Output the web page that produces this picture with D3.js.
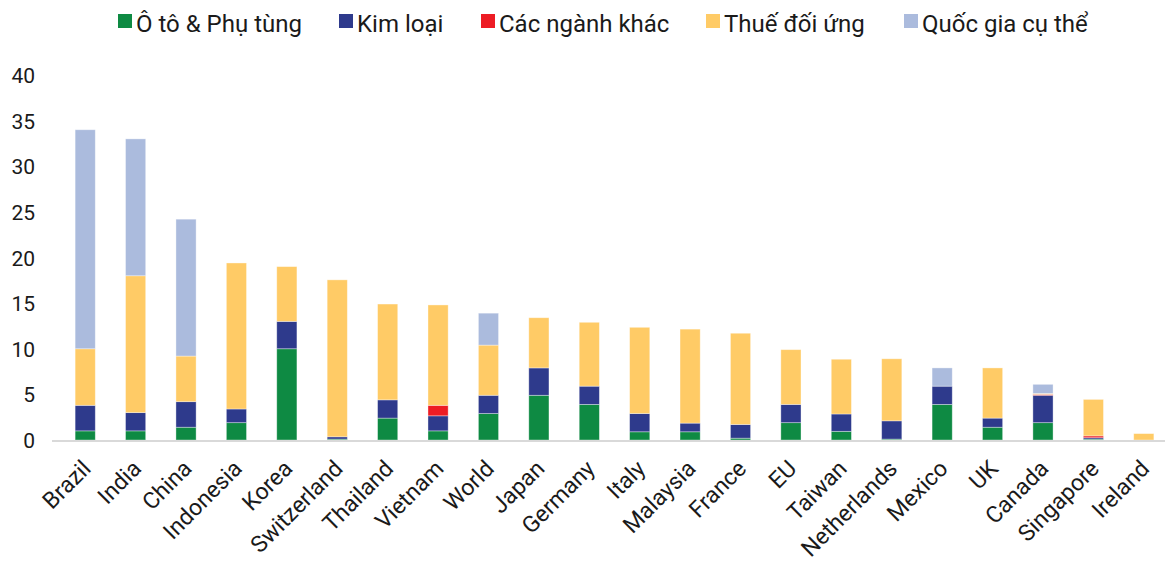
<!DOCTYPE html>
<html>
<head>
<meta charset="utf-8">
<script src="https://cdn.jsdelivr.net/npm/d3@7"></script>
<style>
  html, body { margin: 0; padding: 0; background: #fff; }
  svg { display: block; font-family: Roboto, "Noto Sans", sans-serif; }
</style>
</head>
<body>
<svg id="chart" width="1165" height="562"></svg>
<script>
// Countries, ordered by total tariff rate
const categories = ["Brazil", "India", "China", "Indonesia", "Korea", "Switzerland", "Thailand",
  "Vietnam", "World", "Japan", "Germany", "Italy", "Malaysia", "France", "EU", "Taiwan",
  "Netherlands", "Mexico", "UK", "Canada", "Singapore", "Ireland"];

// Tariff components (percentage points)
const autoParts   = [1.0, 1.0, 1.4, 1.9, 10.0, 0.1, 2.4, 1.0, 2.9, 4.9, 3.9, 0.9, 0.9, 0.2, 1.9, 0.95, 0.1, 3.9, 1.4, 1.9, 0.1, 0];
const metals      = [2.8, 2.0, 2.8, 1.5, 3.0, 0.25, 2.0, 1.65, 2.0, 3.0, 2.0, 2.0, 0.95, 1.5, 2.0, 1.9, 2.0, 2.0, 1.0, 3.0, 0.15, 0];
const otherSectors= [0, 0, 0, 0, 0, 0, 0, 1.15, 0, 0, 0, 0, 0, 0, 0, 0, 0, 0, 0, 0.1, 0.2, 0];
const reciprocal  = [6.2, 15.0, 5.0, 16.0, 6.0, 17.2, 10.5, 11.0, 5.5, 5.5, 7.0, 9.45, 10.3, 10.0, 6.0, 6.0, 6.8, 0, 5.5, 0.1, 4.0, 0.7];
const countrySpec = [24.0, 15.0, 15.0, 0, 0, 0, 0, 0, 3.5, 0, 0, 0, 0, 0, 0, 0, 0, 2.0, 0, 1.0, 0, 0];

const seriesNames = ["Ô tô & Phụ tùng", "Kim loại", "Các ngành khác", "Thuế đối ứng", "Quốc gia cụ thể"];
const seriesKeys  = ["auto", "metal", "other", "recip", "country"];
const seriesColors = ["#0e8a43", "#2e3a8c", "#ed1c24", "#ffcb66", "#abbbdd"];
const yTicks = [0, 5, 10, 15, 20, 25, 30, 35, 40];

// Build rows for the stack layout
const rows = categories.map((c, i) => ({
  name: c,
  auto: autoParts[i], metal: metals[i], other: otherSectors[i],
  recip: reciprocal[i], country: countrySpec[i]
}));

const svg = d3.select("#chart");

const x = d3.scaleBand()
  .domain(categories)
  .range([60, 1169])
  .paddingInner(0.6)
  .paddingOuter(0.3);

const y = d3.scaleLinear().domain([0, 40]).range([440, 75]);

const stacked = d3.stack().keys(seriesKeys)(rows);

// Bars
svg.append("g")
  .selectAll("g")
  .data(stacked)
  .join("g")
  .attr("fill", (d, i) => seriesColors[i])
  .selectAll("rect")
  .data(d => d.filter(s => s[1] - s[0] > 0))
  .join("rect")
  .attr("x", d => x(d.data.name))
  .attr("width", x.bandwidth())
  .attr("y", d => y(d[1]))
  .attr("height", d => y(d[0]) - y(d[1]))
  .attr("stroke", "#ffffff")
  .attr("stroke-opacity", 0.45)
  .attr("stroke-width", 0.8);

// Baseline
svg.append("line")
  .attr("x1", 52).attr("x2", 1165)
  .attr("y1", y(0) + 1).attr("y2", y(0) + 1)
  .attr("stroke", "#d9d9d9")
  .attr("stroke-width", 2);

// Y axis labels
const yAxis = d3.axisLeft(y).tickValues(yTicks).tickSize(0).tickPadding(0);
const yg = svg.append("g").attr("transform", "translate(35,0)").call(yAxis);
yg.select(".domain").remove();
yg.selectAll("text")
  .attr("font-size", 21)
  .attr("font-family", "Roboto, sans-serif")
  .attr("fill", "#1a1a1a")
  .attr("dy", "0.36em");

// X axis labels, rotated 45 degrees and anchored at their end
const xAxis = d3.axisBottom(x).tickSize(0).tickPadding(0);
const xg = svg.append("g").call(xAxis);
xg.select(".domain").remove();
xg.selectAll(".tick").attr("transform", d => `translate(${x(d) + x.bandwidth() / 2 + 7},470)`);
xg.selectAll("text")
  .attr("y", 0)
  .attr("dy", 0)
  .attr("font-size", 23)
  .attr("font-family", "Roboto, sans-serif")
  .attr("fill", "#1a1a1a")
  .attr("text-anchor", "end")
  .attr("transform", "rotate(-45)");

// Legend
const legendX = [118, 339, 481, 706, 904];
const legend = svg.append("g");
seriesNames.forEach((name, i) => {
  const g = legend.append("g").attr("transform", `translate(${legendX[i]},0)`);
  g.append("rect").attr("x", 0).attr("y", 14).attr("width", 14).attr("height", 14)
    .attr("fill", seriesColors[i]);
  g.append("text").attr("x", 18).attr("y", 32)
    .attr("font-size", 24)
    .attr("font-family", "Roboto, sans-serif")
    .attr("fill", "#1a1a1a")
    .text(name);
});
</script>
</body>
</html>
